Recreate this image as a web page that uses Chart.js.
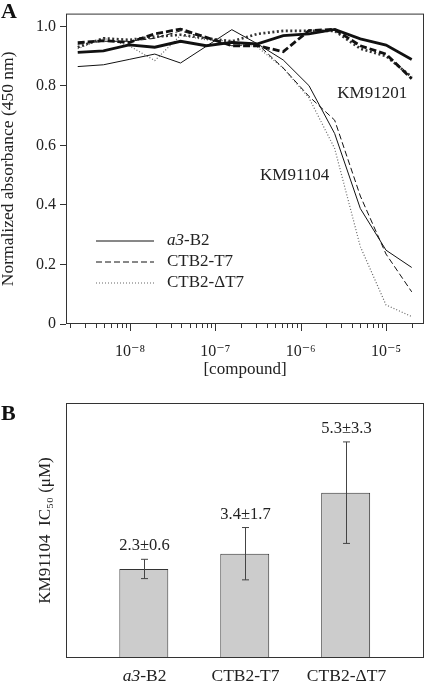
<!DOCTYPE html>
<html>
<head>
<meta charset="utf-8">
<script src="https://cdn.jsdelivr.net/npm/chart.js@4.4.0/dist/chart.umd.min.js"></script>
<style>
  body { margin: 0; background: #fff; width: 425px; height: 685px; overflow: hidden; position: relative; }
  .panel { position: absolute; left: 0; width: 425px; }
  #wrapA { top: 0; height: 385px; }
  #wrapB { top: 385px; height: 300px; }
  .tag { position: absolute; left: 1px; font: bold 22px/1 "Liberation Serif", serif; color: #111; }
</style>
</head>
<body>
<div class="panel" id="wrapA"><canvas id="absChart"></canvas></div>
<div class="panel" id="wrapB"><canvas id="icChart"></canvas></div>
<div class="tag" style="top:0px">A</div>
<div class="tag" style="top:402px">B</div>
<script>
const SERIF = '"Liberation Serif", "DejaVu Serif", serif';
const INK = "#222";

// panel A: normalized absorbance vs compound concentration (M)
const concentration = [2.44e-9, 4.88e-9, 9.77e-9, 1.95e-8, 3.91e-8, 7.81e-8, 1.56e-7,
                       3.13e-7, 6.25e-7, 1.25e-6, 2.5e-6, 5e-6, 1e-5, 2e-5];
const km91201_a3B2  = [0.913, 0.918, 0.938, 0.930, 0.950, 0.935, 0.946, 0.941, 0.969, 0.975, 0.990, 0.958, 0.937, 0.889];
const km91201_T7    = [0.945, 0.952, 0.946, 0.975, 0.991, 0.963, 0.935, 0.935, 0.915, 0.986, 0.990, 0.935, 0.907, 0.824];
const km91201_dT7   = [0.930, 0.960, 0.955, 0.965, 0.972, 0.960, 0.950, 0.975, 0.985, 0.985, 0.985, 0.925, 0.900, 0.830];
const km91104_a3B2  = [0.865, 0.871, 0.889, 0.907, 0.877, 0.933, 0.989, 0.941, 0.887, 0.801, 0.640, 0.388, 0.248, 0.190];
const km91104_T7    = [0.940, 0.950, 0.950, 0.960, 0.985, 0.960, 0.935, 0.940, 0.860, 0.765, 0.685, 0.430, 0.235, 0.108];
const km91104_dT7   = [0.925, 0.960, 0.935, 0.885, 0.970, 0.955, 0.950, 0.930, 0.860, 0.760, 0.590, 0.260, 0.064, 0.025];

const strainLabels = ["a3-B2", "CTB2-T7", "CTB2-\u0394T7"];
const italicPart   = ["a3", "", ""];

const yTicksA      = [0, 0.2, 0.4, 0.6, 0.8, 1.0];
const yTickLabelsA = ["0", "0.2", "0.4", "0.6", "0.8", "1.0"];
const xTickValues  = [1e-8, 1e-7, 1e-6, 1e-5];
const xTickLabels  = ["10\u207B\u2078", "10\u207B\u2077", "10\u207B\u2076", "10\u207B\u2075"];

const curveNotes = ["KM91201", "KM91104"];
const noteX = [6.9e-6, 8.5e-7];
const noteY = [0.776, 0.50];

// panel B: IC50 bars (bar heights as drawn, error = half the quoted range)
const ic50Mean = [2.86, 3.35, 5.31];
const ic50Err  = [0.31, 0.84, 1.63];
const ic50Text = ["2.3\u00B10.6", "3.4\u00B11.7", "5.3\u00B13.3"];

function pts(ys) { return ys.map((y, i) => ({ x: concentration[i], y })); }

// writes "a3-B2" with the italic prefix, centred or left aligned
function mixedText(ctx, label, ital, x, y, align, size) {
  const rest = label.slice(ital.length);
  ctx.font = "italic " + size + "px " + SERIF;
  const w1 = ctx.measureText(ital).width;
  ctx.font = size + "px " + SERIF;
  const w2 = ctx.measureText(rest).width;
  const x0 = align === "center" ? x - (w1 + w2) / 2 : x;
  ctx.textAlign = "left";
  ctx.font = "italic " + size + "px " + SERIF;
  ctx.fillText(ital, x0, y);
  ctx.font = size + "px " + SERIF;
  ctx.fillText(rest, x0 + w1, y);
}

const panelA = {
  id: "panelA",
  afterDatasetsDraw(chart) {
    const { ctx, chartArea: a, scales: { x, y } } = chart;
    ctx.save();
    ctx.strokeStyle = "#333";
    ctx.lineWidth = 1;
    ctx.setLineDash([]);
    ctx.strokeRect(a.left + 0.5, a.top + 0.5, a.width - 1, a.height - 1);

    // log tick marks, longer at decades
    x.ticks.forEach(t => {
      const px = Math.round(x.getPixelForValue(t.value)) + 0.5;
      const len = xTickValues.includes(t.value) ? 7 : 4;
      ctx.beginPath();
      ctx.moveTo(px, a.bottom);
      ctx.lineTo(px, a.bottom + len);
      ctx.stroke();
    });

    ctx.fillStyle = INK;
    ctx.font = "17px " + SERIF;
    ctx.textAlign = "center";
    ctx.textBaseline = "middle";
    curveNotes.forEach((s, i) => ctx.fillText(s, x.getPixelForValue(noteX[i]), y.getPixelForValue(noteY[i])));

    // legend for the KM91104 line styles
    strainLabels.forEach((lab, k) => {
      const ds = chart.data.datasets[3 + k];
      const ry = a.bottom - 83 + 21 * k;
      ctx.strokeStyle = ds.borderColor;
      ctx.lineWidth = ds.borderWidth;
      ctx.setLineDash(ds.borderDash || []);
      ctx.beginPath();
      ctx.moveTo(a.left + 30, ry);
      ctx.lineTo(a.left + 88, ry);
      ctx.stroke();
      mixedText(ctx, lab, italicPart[k], a.left + 101, ry, "left", 17);
    });
    ctx.restore();
  }
};

new Chart(document.getElementById("absChart"), {
  type: "line",
  data: {
    datasets: [
      { label: "KM91201 " + strainLabels[0], data: pts(km91201_a3B2), borderColor: "#111", borderWidth: 2.8 },
      { label: "KM91201 " + strainLabels[1], data: pts(km91201_T7), borderColor: "#111", borderWidth: 2.8, borderDash: [7, 3] },
      { label: "KM91201 " + strainLabels[2], data: pts(km91201_dT7), borderColor: "#333", borderWidth: 2.6, borderDash: [2, 2.5] },
      { label: "KM91104 " + strainLabels[0], data: pts(km91104_a3B2), borderColor: "#111", borderWidth: 1 },
      { label: "KM91104 " + strainLabels[1], data: pts(km91104_T7), borderColor: "#111", borderWidth: 1, borderDash: [6, 3] },
      { label: "KM91104 " + strainLabels[2], data: pts(km91104_dT7), borderColor: "#666", borderWidth: 1.2, borderDash: [1, 2] }
    ]
  },
  options: {
    responsive: true, maintainAspectRatio: false, animation: false,
    elements: { point: { radius: 0 }, line: { tension: 0, fill: false } },
    layout: { padding: { top: 13, right: 1, left: 0, bottom: 0 } },
    plugins: { legend: { display: false }, tooltip: { enabled: false } },
    scales: {
      x: {
        type: "logarithmic", min: 1.778e-9, max: 2.786e-5,
        afterBuildTicks: s => {
          const t = [];
          [1e-9].concat(xTickValues).forEach(base => {
            for (let m = 1; m <= 9; m++) {
              const v = m === 1 ? base : m * base;
              if (v >= s.min && v <= s.max) t.push({ value: v });
            }
          });
          s.ticks = t;
        },
        afterFit: s => { s.height = 61; },
        grid: { display: false },
        border: { display: false },
        ticks: {
          autoSkip: false, maxRotation: 0, padding: 10, color: INK,
          font: { family: SERIF, size: 16 },
          callback: v => { const k = xTickValues.indexOf(v); return k < 0 ? "" : xTickLabels[k]; }
        },
        title: { display: true, text: "[compound]", color: INK, font: { family: SERIF, size: 17 }, padding: { top: 0, bottom: 5 } }
      },
      y: {
        min: 0, max: 1.043,
        afterBuildTicks: s => { s.ticks = yTicksA.map(v => ({ value: v })); },
        afterFit: s => { s.width = 66; },
        grid: { drawOnChartArea: false, drawTicks: true, tickLength: 6, color: "#333" },
        border: { display: false },
        ticks: {
          padding: 4, color: INK, font: { family: SERIF, size: 16 },
          callback: v => yTickLabelsA[yTicksA.indexOf(v)]
        },
        title: { display: true, text: "Normalized absorbance (450 nm)", color: INK,
                 font: { family: SERIF, size: 17.5, lineHeight: 1 }, padding: { top: 0, bottom: 0 } }
      }
    }
  },
  plugins: [panelA]
});

const panelB = {
  id: "panelB",
  afterDatasetsDraw(chart) {
    const { ctx, chartArea: a, scales: { x, y } } = chart;
    ctx.save();
    ctx.strokeStyle = "#333";
    ctx.lineWidth = 1;
    ctx.strokeRect(a.left + 0.5, a.top + 0.5, a.width - 1, a.height - 1);

    ctx.strokeStyle = "#444";
    ctx.fillStyle = INK;
    ctx.textBaseline = "alphabetic";
    ic50Mean.forEach((m, i) => {
      const px = Math.round(x.getPixelForValue(i)) + 0.5;
      const yHi = y.getPixelForValue(m + ic50Err[i]);
      const yLo = y.getPixelForValue(m - ic50Err[i]);
      ctx.beginPath();
      ctx.moveTo(px, yHi); ctx.lineTo(px, yLo);
      ctx.moveTo(px - 3.5, yHi); ctx.lineTo(px + 3.5, yHi);
      ctx.moveTo(px - 3.5, yLo); ctx.lineTo(px + 3.5, yLo);
      ctx.stroke();
      ctx.font = "16.5px " + SERIF;
      ctx.textAlign = "center";
      ctx.fillText(ic50Text[i], px, yHi - 9);
      mixedText(ctx, strainLabels[i], italicPart[i], px, a.bottom + 23, "center", 17.5);
    });
    ctx.restore();
  }
};

new Chart(document.getElementById("icChart"), {
  type: "bar",
  data: {
    datasets: [{
      label: "KM91104 IC50",
      data: ic50Mean.map((v, i) => ({ x: i, y: v })),
      backgroundColor: "#cccccc",
      borderColor: "#333",
      borderWidth: 1,
      barPercentage: 0.485,
      categoryPercentage: 1
    }]
  },
  options: {
    responsive: true, maintainAspectRatio: false, animation: false,
    layout: { padding: { top: 18, right: 1, left: 0, bottom: 0 } },
    plugins: { legend: { display: false }, tooltip: { enabled: false } },
    scales: {
      x: {
        type: "linear", min: -0.771, max: 2.776, offset: false,
        afterBuildTicks: s => { s.ticks = ic50Mean.map((_, i) => ({ value: i })); },
        afterFit: s => { s.height = 27; },
        ticks: { display: false }, grid: { display: false }, border: { display: false }
      },
      y: {
        min: 0, max: 8.19,
        afterFit: s => { s.width = 66; },
        ticks: { display: false }, grid: { display: false }, border: { display: false },
        title: { display: true, text: "KM91104  IC\u2085\u2080 (\u03BCM)", color: INK,
                 font: { family: SERIF, size: 17 }, padding: { top: 35, bottom: 0 } }
      }
    }
  },
  plugins: [panelB]
});
</script>
</body>
</html>
